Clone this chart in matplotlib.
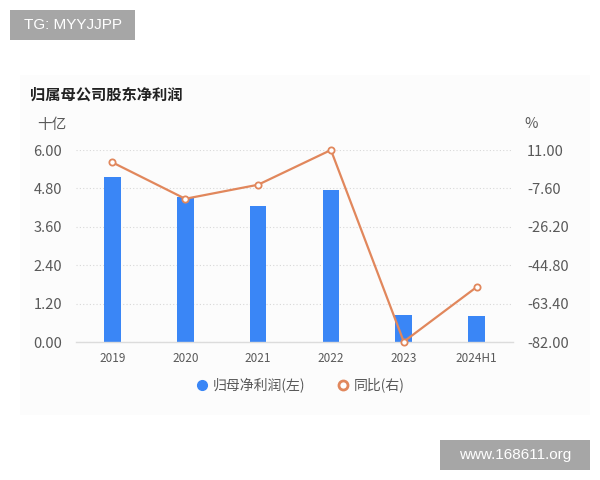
import matplotlib
matplotlib.use("Agg")
import matplotlib.pyplot as plt
from matplotlib.lines import Line2D
from matplotlib.patches import Rectangle

plt.rcParams['font.family'] = ['Noto Sans CJK SC', 'DejaVu Sans']

categories = ["2019", "2020", "2021", "2022", "2023", "2024H1"]
profit = [5.16, 4.52, 4.26, 4.74, 0.86, 0.83]          # 十亿
yoy = [5.0, -12.6, -5.8, 11.0, -81.7, -55.3]            # %
left_ticks = [0.00, 1.20, 2.40, 3.60, 4.80, 6.00]
right_ticks = [-82.00, -63.40, -44.80, -26.20, -7.60, 11.00]

blue = "#3a86f6"
orange = "#e1875c"
tick_color = "#595959"

fig = plt.figure(figsize=(6, 4.8), dpi=100)
fig.patch.set_facecolor("white")

# faint panel background
fig.patches.append(Rectangle((20 / 600, 1 - 415 / 480), 570 / 600, 340 / 480,
                             transform=fig.transFigure, facecolor="#fcfcfc",
                             edgecolor="none", zorder=-10))

ax = fig.add_axes([76 / 600, 1 - 342.3 / 480, (513 - 76) / 600, (342.3 - 150) / 480])
ax.set_facecolor("none")
x = list(range(len(categories)))
ax.bar(x, profit, width=0.23, color=blue, zorder=2)
ax.set_xlim(-0.5, len(categories) - 0.5)
ax.set_ylim(0, 6)
ax.set_yticks(left_ticks)
ax.set_yticklabels([f"{v:.2f}" for v in left_ticks])
ax.set_xticks(x)
ax.set_xticklabels(categories)
for s in ["top", "right", "left"]:
    ax.spines[s].set_visible(False)
ax.spines["bottom"].set_color("#dcdcdc")
ax.spines["bottom"].set_linewidth(1.0)
ax.tick_params(axis="y", length=0, pad=10, labelsize=10.5, labelcolor=tick_color)
ax.tick_params(axis="x", length=0, pad=7, labelsize=8.5, labelcolor=tick_color)
ax.grid(axis="y", linestyle=(0, (1, 2)), color="#d8d8d8", linewidth=0.8, zorder=0)
ax.set_axisbelow(True)

ax2 = ax.twinx()
ax2.plot(x, yoy, color=orange, linewidth=1.6, marker="o", markersize=4.5,
         markerfacecolor="white", markeredgecolor=orange, markeredgewidth=1.3,
         zorder=3, clip_on=False)
ax2.set_ylim(-82, 11)
ax2.set_yticks(right_ticks)
ax2.set_yticklabels([f"{v:.2f}" for v in right_ticks])
for s in ["top", "right", "left", "bottom"]:
    ax2.spines[s].set_visible(False)
ax2.tick_params(axis="y", length=0, pad=10, labelsize=10.5, labelcolor=tick_color)

# titles / units
fig.text(30 / 600, 1 - 95 / 480, "归属母公司股东净利润", fontsize=11, fontweight="bold",
         color="#222222", ha="left", va="center")
fig.text(37 / 600, 1 - 125 / 480, "十亿", fontsize=10.5, color=tick_color,
         ha="left", va="center")
fig.text(524 / 600, 1 - 124 / 480, "%", fontsize=10.5, color=tick_color,
         ha="left", va="center")

# legend
handles = [
    Line2D([], [], linestyle="none", marker="o", markersize=7, markerfacecolor=blue,
           markeredgecolor=blue),
    Line2D([], [], linestyle="none", marker="o", markersize=6.5, markerfacecolor="white",
           markeredgecolor=orange, markeredgewidth=2),
]
fig.legend(handles, ["归母净利润(左)", "同比(右)"], loc="center",
           bbox_to_anchor=(300 / 600, 1 - 385 / 480), ncol=2, frameon=False,
           fontsize=10, labelcolor=tick_color, handletextpad=0.3, columnspacing=2.2,
           handlelength=1.0)

# watermarks
fig.patches.append(Rectangle((10 / 600, 1 - 40 / 480), 125 / 600, 30 / 480,
                             transform=fig.transFigure, facecolor="#a6a6a6",
                             edgecolor="none", zorder=5))
fig.text(72.5 / 600, 1 - 25 / 480, "TG: MYYJJPP", fontsize=11, color="white",
         family="Liberation Sans", ha="center", va="center", zorder=6)
fig.patches.append(Rectangle((440 / 600, 1 - 470 / 480), 150 / 600, 30 / 480,
                             transform=fig.transFigure, facecolor="#a6a6a6",
                             edgecolor="none", zorder=5))
fig.text(515 / 600, 1 - 455 / 480, "www.168611.org", fontsize=11, color="white",
         family="Liberation Sans", ha="center", va="center", zorder=6)

fig.savefig("out.png", dpi=100)
